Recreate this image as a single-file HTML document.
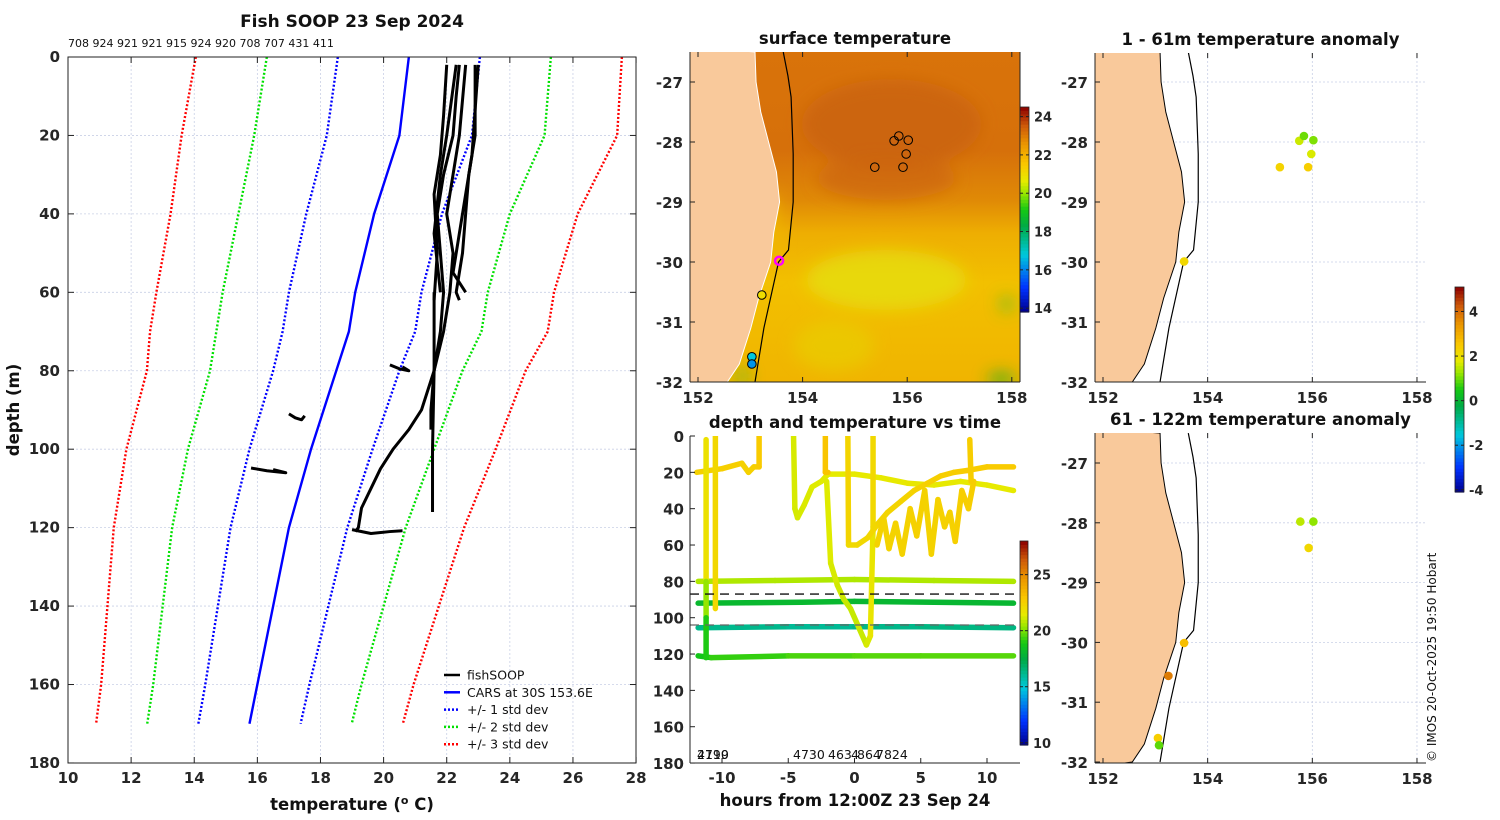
<!DOCTYPE html>
<html><head><meta charset="utf-8"><title>Fish SOOP 23 Sep 2024</title>
<style>
html,body{margin:0;padding:0;background:#fff;}
svg{display:block;font-family:"DejaVu Sans","Liberation Sans",sans-serif;}
.tk{font-size:15px;font-weight:bold;fill:#262626;}
.ti{font-size:16.5px;font-weight:bold;fill:#111;}
.pl{font-weight:normal;fill:#111;}
</style></head>
<body>
<svg id="fig" width="1500" height="820" viewBox="0 0 1500 820" xmlns="http://www.w3.org/2000/svg">
<defs>
<clipPath id="cpMain"><rect x="68" y="57" width="568" height="706"/></clipPath>
<clipPath id="cpM1"><rect x="690" y="52" width="330" height="330"/></clipPath>
<clipPath id="cpM2"><rect x="1095" y="53" width="331" height="329"/></clipPath>
<clipPath id="cpM3"><rect x="1095" y="433" width="331" height="330"/></clipPath>
<clipPath id="cpT"><rect x="690" y="436" width="330" height="327"/></clipPath>
<linearGradient id="sstbg" x1="0" y1="0" x2="0" y2="1">
<stop offset="0" stop-color="#d9730a"/><stop offset="0.3" stop-color="#d6700a"/>
<stop offset="0.45" stop-color="#e08a06"/><stop offset="0.55" stop-color="#eeae02"/>
<stop offset="0.7" stop-color="#f2c000"/><stop offset="1" stop-color="#f0b400"/>
</linearGradient>
<filter id="blur8"><feGaussianBlur stdDeviation="8"/></filter>
</defs>
</svg>
<script>
// ---------- data ----------
const profileDepths=[0,20,40,60,70,80,100,120,140,160,170];
const carsMean=[20.8,20.5,19.7,19.1,18.9,18.5,17.7,17.0,16.5,16.0,15.75];
const carsStd=[2.25,2.3,2.15,2.1,2.1,2.0,1.95,1.85,1.75,1.65,1.62];
const xTicks=[10,12,14,16,18,20,22,24,26,28];
const yTicks=[0,20,40,60,80,100,120,140,160,180];
const profCounts="708 924 921 921 915 924 920 708 707 431 411";
const fishProfiles=[
 {d:[2,10,20,30,40,50,60,70,80,90,95,100,105,110,115,120,121],t:[22.4,22.3,22.2,21.9,21.7,21.8,21.9,21.8,21.6,21.2,20.8,20.3,19.9,19.6,19.3,19.2,19.1]},
 {d:[2,20,40,50,60,70,80,90,95],t:[22.6,22.4,22.0,22.2,22.1,21.9,21.6,21.5,21.5]},
 {d:[60,80,100,116],t:[21.6,21.6,21.55,21.55]},
 {d:[2,20,30,40,50,60,62],t:[22.9,22.9,22.7,22.6,22.5,22.3,22.4]},
 {d:[2,25,40,55,60],t:[23.0,22.8,22.5,22.2,22.6]},
 {d:[2,20,30,45,60],t:[22.3,22.0,21.8,21.6,21.8]},
 {d:[2,15,25,35,50,62],t:[22.0,21.9,21.8,21.6,21.7,21.6]},
 {d:[78.5,79.5,80,79],t:[20.2,20.5,20.8,20.6]},
 {d:[91,92,92.5,91.5],t:[17.0,17.2,17.4,17.5]},
 {d:[104.8,105.5,106,105.2],t:[15.8,16.3,16.9,16.5]},
 {d:[120.5,121.5,121,120.8],t:[19.0,19.6,20.2,20.6]}
];
const legendLabels=["fishSOOP","CARS at 30S 153.6E","+/- 1 std dev","+/- 2 std dev","+/- 3 std dev"];
// time-depth tracks
const tracks=[
 {h:[-11.8,-6,0,6,12],d:[80,79.5,79,79.5,80],t:[20.6,20.8,20.6,20.8,20.6]},
 {h:[-11.8,-4,0,6,12],d:[92,91.5,91,91.5,92],t:[18.0,18.2,18.0,18.1,18.0]},
 {h:[-11.8,-5,0,5,12],d:[105.5,105,105,105,105.5],t:[16.5,16.0,16.2,16.4,16.5]},
 {h:[-11.8,-10.8,-5,0,5,12],d:[121,122,121,121,121,121],t:[19.0,18.5,20.0,19.0,20.3,19.0]},
 {h:[-11.9,-10,-8.5,-8,-7.6,-7.2],d:[20,18,15,20,17,17],t:[22.5,22.6,22.6,22.5,22.6,22.6]},
 {h:[-11.2,-11.2,-11.2,-11.2],d:[2,80,100,122],t:[22.5,21.2,19.5,18.5]},
 {h:[-10.5,-10.5],d:[0,95],t:[22.8,21.8]},
 {h:[-7.2,-7.2],d:[0,17],t:[22.8,22.8]},
 {h:[-4.6,-4.5,-4.3,-3.8,-3.2,-2.5,-2,0,2,4,6,8,10,12],d:[0,40,45,38,28,25,21,21,23,26,27,25,27,30],t:[21.3,21.2,21.2,21.3,21.3,21.4,21.4,21.5,21.5,21.6,21.6,21.5,21.5,21.5]},
 {h:[-2.2,-2.2,-2.0],d:[0,20,20],t:[23.0,23.0,23.0]},
 {h:[-2.1,-1.8,-1.3,-0.8,-0.3,0.3,0.9,1.2,1.4,1.4],d:[25,70,82,90,95,105,115,110,50,0],t:[21.4,21.3,21.2,21.1,21.0,21.0,21.1,21.4,22.0,22.5]},
 {h:[-0.5,-0.45,0.2,1,1.8,2.5,3.5,4.5,5.5,6.5,7.5,8.5,10,12],d:[0,60,60,56,48,42,36,30,26,22,20,19,17,17],t:[22.6,22.2,22.2,22.3,22.3,22.4,22.4,22.5,22.6,22.6,22.7,22.7,22.8,22.8]},
 {h:[1.7,2.2,2.6,3.1,3.6,4.2,4.7,5.3,5.8,6.3,6.8,7.2,7.6,8.1,8.6,9.0],d:[60,45,62,48,65,40,55,30,65,35,50,42,58,30,40,25],t:[22.5,22.5,22.4,22.5,22.4,22.6,22.5,22.6,22.4,22.6,22.5,22.6,22.5,22.7,22.6,22.7]},
 {h:[8.7,8.8],d:[2,25],t:[22.7,22.7]}
];
const hTicks=[-10,-5,0,5,10];
const tdTicks=[0,20,40,60,80,100,120,140,160,180];
const mldLines=[87,104];
// maps
const coastLon=[153.09,153.11,153.2,153.35,153.5,153.56,153.45,153.39,153.16,153.01,152.79,152.56];
const coastLat=[-26.5,-27,-27.5,-28,-28.5,-29,-29.5,-30,-30.6,-31.1,-31.7,-32];
const isoLon=[153.63,153.72,153.78,153.82,153.82,153.73,153.54,153.26,153.09];
const isoLat=[-26.5,-26.9,-27.25,-28.2,-29,-29.8,-30,-31.1,-32];
const sstLon=[155.75,155.84,156.02,155.98,155.92,155.38,153.22,153.03,153.03];
const sstLat=[-27.98,-27.9,-27.97,-28.2,-28.42,-28.42,-30.55,-31.58,-31.7];
const sstVal=[null,null,null,null,null,null,21.0,16.8,16.2];
const anomLon1=[155.75,155.84,156.02,155.98,155.92,155.38,153.55];
const anomLat1=[-27.98,-27.9,-27.97,-28.2,-28.42,-28.42,-29.99];
const anomVal1=[1.6,1.0,1.1,1.7,2.4,2.3,2.2];
const anomLon2=[155.77,156.02,155.93,153.55,153.25,153.05,153.07];
const anomLat2=[-27.98,-27.98,-28.42,-30.01,-30.56,-31.6,-31.72];
const anomVal2=[1.5,1.2,2.2,2.7,3.8,2.4,0.9];
const lonTicks=[152,154,156,158];
const latTicks=[-27,-28,-29,-30,-31,-32];

// ---------- helpers ----------
const svg=document.getElementById('fig');
const NS='http://www.w3.org/2000/svg';
function mk(tag,at,parent){const e=document.createElementNS(NS,tag);for(const k in at)e.setAttribute(k,at[k]);(parent||svg).appendChild(e);return e;}
function txt(s,x,y,cls,anchor,parent){const e=mk('text',{x:x,y:y,'class':cls||'tk','text-anchor':anchor||'middle'},parent);e.textContent=s;return e;}
const cmapStops=[[0,[0,0,140]],[0.12,[0,50,255]],[0.28,[0,200,220]],[0.42,[0,170,70]],[0.5,[20,200,20]],[0.58,[150,230,0]],[0.64,[230,235,0]],[0.72,[250,200,0]],[0.82,[235,150,0]],[0.91,[205,90,10]],[1,[140,0,0]]];
function cmap(f){f=Math.max(0,Math.min(1,f));for(let i=1;i<cmapStops.length;i++){if(f<=cmapStops[i][0]){const a=cmapStops[i-1],b=cmapStops[i];const u=(f-a[0])/(b[0]-a[0]);const c=a[1].map((v,j)=>Math.round(v+(b[1][j]-v)*u));return 'rgb('+c.join(',')+')';}}return 'rgb(140,0,0)';}
function colorbar(x,y,w,h,vmin,vmax,ticks,name){
  const g=mk('g',{});
  
  
  const n=60;
  for(let i=0;i<n;i++){mk('rect',{x:x,y:y+h-(i+1)*h/n,width:w,height:h/n+0.6,fill:cmap((i+0.5)/n)},g);}
  mk('rect',{x:x,y:y,width:w,height:h,fill:'none',stroke:'#222','stroke-width':0.8},g);
  ticks.forEach(v=>{const yy=y+h-(v-vmin)/(vmax-vmin)*h;mk('line',{x1:x+w-3,x2:x+w,y1:yy,y2:yy,stroke:'#222'},g);mk('line',{x1:x,x2:x+3,y1:yy,y2:yy,stroke:'#222'},g);
    const t=txt(String(v),x+w+5,yy+5,'tk','start',g);t.setAttribute('style','font-size:13px');});
}

// ---------- main profile plot ----------
const tx=t=>68+(t-10)*31.56, dy=d=>57+d*3.922;
const gMain=mk('g',{});


xTicks.forEach(v=>{if(v>10&&v<28){const l=mk('line',{x1:tx(v),x2:tx(v),y1:57,y2:763,stroke:'#c9d0e6','stroke-width':0.8,'stroke-dasharray':'2,2'},gMain);
  }});
yTicks.forEach(v=>{if(v>0&&v<180){const l=mk('line',{x1:68,x2:636,y1:dy(v),y2:dy(v),stroke:'#c9d0e6','stroke-width':0.8,'stroke-dasharray':'2,2'},gMain);
  }});
const gLines=mk('g',{'clip-path':'url(#cpMain)'},gMain);
[[3,'#ff0000'],[2,'#00e000'],[1,'#0000ff']].forEach(([k,col])=>{
  [-1,1].forEach(sg=>{const pts=profileDepths.map((d,i)=>tx(carsMean[i]+sg*k*carsStd[i])+','+dy(d)).join(' ');
    const p=mk('polyline',{points:pts,fill:'none',stroke:col,'stroke-width':2.4,'stroke-dasharray':'2,2'},gLines);
    
    });
});
const meanLine=mk('polyline',{points:profileDepths.map((d,i)=>tx(carsMean[i])+','+dy(d)).join(' '),fill:'none',stroke:'#0000ff','stroke-width':2.4},gLines);


fishProfiles.forEach(p=>{const pl=mk('polyline',{points:p.d.map((d,i)=>tx(p.t[i])+','+dy(d)).join(' '),fill:'none',stroke:'#000','stroke-width':3,'stroke-linejoin':'round'},gLines);
  
  });
mk('rect',{x:68,y:57,width:568,height:706,fill:'none',stroke:'#222','stroke-width':1},gMain);
xTicks.forEach(v=>{mk('line',{x1:tx(v),x2:tx(v),y1:763,y2:757,stroke:'#222'},gMain);mk('line',{x1:tx(v),x2:tx(v),y1:57,y2:63,stroke:'#222'},gMain);
  const t=txt(String(v),tx(v),783,'tk','middle',gMain);});
yTicks.forEach(v=>{mk('line',{x1:68,x2:74,y1:dy(v),y2:dy(v),stroke:'#222'},gMain);mk('line',{x1:636,x2:630,y1:dy(v),y2:dy(v),stroke:'#222'},gMain);
  const t=txt(String(v),60,dy(v)+5,'tk','end',gMain);});
const mt=txt('Fish SOOP 23 Sep 2024',352,27,'ti','middle',gMain);mt.setAttribute('style','font-size:17px');

const pc=txt(profCounts,68,47,'pl','start',gMain);pc.setAttribute('style','font-size:11px');

const xl=mk('text',{x:352,y:810,'class':'ti','text-anchor':'middle'},gMain);xl.innerHTML='temperature (<tspan dy="-6" font-size="11">o</tspan><tspan dy="6"> C)</tspan>';

const yl=txt('depth (m)',0,0,'ti','middle',gMain);yl.setAttribute('transform','translate(19,410) rotate(-90)');

// legend
const gLeg=mk('g',{});


const legStyle=[['#000',''],['#0000ff',''],['#0000ff','2,2'],['#00e000','2,2'],['#ff0000','2,2']];
legendLabels.forEach((s,i)=>{const y=675+i*17.3;
  mk('line',{x1:444,x2:460,y1:y,y2:y,stroke:legStyle[i][0],'stroke-width':2.5,'stroke-dasharray':legStyle[i][1]},gLeg);
  const t=txt(s,467,y+4.5,'pl','start',gLeg);t.setAttribute('style','font-size:12.5px');
  });

// ---------- maps ----------
function drawMap(o){
  const g=mk('g',{});
  
  
  const X=lon=>o.x152+(lon-152)*o.kx, Y=lat=>o.y27+(-27-lat)*o.ky;
  const inner=mk('g',{'clip-path':'url(#'+o.clip+')'},g);
  if(o.sst){
    mk('rect',{x:o.bx,y:o.by,width:o.bw,height:o.bh,fill:'url(#sstbg)'},inner);
    const bl=mk('g',{filter:'url(#blur8)'},inner);
    mk('ellipse',{cx:X(155.7),cy:Y(-27.7),rx:90,ry:45,fill:'#c8600c',opacity:0.7},bl);
    mk('ellipse',{cx:X(155.6),cy:Y(-28.6),rx:70,ry:22,fill:'#cc640a',opacity:0.7},bl);
    mk('ellipse',{cx:X(155.6),cy:Y(-30.3),rx:80,ry:30,fill:'#e4e010',opacity:0.75},bl);
    mk('ellipse',{cx:X(154.6),cy:Y(-31.4),rx:40,ry:25,fill:'#e8d008',opacity:0.6},bl);
    mk('ellipse',{cx:X(157.9),cy:Y(-30.7),rx:6,ry:8,fill:'#50c020',opacity:0.8},bl);
    mk('ellipse',{cx:X(157.8),cy:Y(-31.95),rx:14,ry:6,fill:'#30b020',opacity:0.9},bl);
    mk('ellipse',{cx:X(153.4),cy:Y(-29.5),rx:8,ry:40,fill:'#f0b800',opacity:0.8},bl);
    mk('ellipse',{cx:X(152.85),cy:Y(-31.9),rx:6,ry:6,fill:'#30c020',opacity:0.9},bl);
  } else {
    lonTicks.forEach(v=>{if(v>152)mk('line',{x1:X(v),x2:X(v),y1:o.by,y2:o.by+o.bh,stroke:'#c9d0e6','stroke-width':0.8,'stroke-dasharray':'2,2'},inner);});
    latTicks.forEach(v=>{if(v>-32)mk('line',{x1:o.bx,x2:o.bx+o.bw,y1:Y(v),y2:Y(v),stroke:'#c9d0e6','stroke-width':0.8,'stroke-dasharray':'2,2'},inner);});
  }
  const land=coastLon.map((lo,i)=>X(lo)+','+Y(coastLat[i])).concat([X(151.7)+','+Y(-32.1),X(151.7)+','+Y(-26.4)]).join(' ');
  const lp=mk('polygon',{points:land,fill:'#f9c99b',stroke:o.sst?'#fff':'#000','stroke-width':1},inner);
  
  
  const iso=mk('polyline',{points:isoLon.map((lo,i)=>X(lo)+','+Y(isoLat[i])).join(' '),fill:'none',stroke:'#000','stroke-width':1.2},inner);
  
  
  o.dots.lon.forEach((lo,i)=>{const v=o.dots.val[i];
    const c=mk('circle',{cx:X(lo),cy:Y(o.dots.lat[i]),r:4.3,fill:v==null?'none':cmap((v-o.vmin)/(o.vmax-o.vmin)),stroke:o.sst?'#000':'none','stroke-width':1},inner);
    
    });
  if(o.sst){const m=mk('circle',{cx:X(153.55),cy:Y(-29.98),r:4,fill:'none',stroke:'#ff00ff','stroke-width':2.5},inner);
    }
  mk('line',{x1:o.bx,x2:o.bx,y1:o.by,y2:o.by+o.bh,stroke:'#222'},g);
  mk('line',{x1:o.bx,x2:o.bx+o.bw,y1:o.by+o.bh,y2:o.by+o.bh,stroke:'#222'},g);
  if(o.sst){mk('line',{x1:o.bx+o.bw,x2:o.bx+o.bw,y1:o.by,y2:o.by+o.bh,stroke:'#222'},g);}
  lonTicks.forEach(v=>{mk('line',{x1:X(v),x2:X(v),y1:o.by+o.bh,y2:o.by+o.bh-5,stroke:'#222'},g);mk('line',{x1:X(v),x2:X(v),y1:o.by,y2:o.by+5,stroke:'#222'},g);
    const t=txt(String(v),X(v),o.by+o.bh+21,'tk','middle',g);});
  latTicks.forEach(v=>{mk('line',{x1:o.bx,x2:o.bx+5,y1:Y(v),y2:Y(v),stroke:'#222'},g);
    const t=txt(String(v),o.bx-7,Y(v)+6,'tk','end',g);});
  const tt=txt(o.title,o.bx+o.bw/2,o.by-8,'ti','middle',g);
  
}
drawMap({name:'surface-temperature-map',title:'surface temperature',sst:true,clip:'cpM1',x152:698,kx:52.3,y27:82,ky:60,bx:690,by:52,bw:330,bh:330,
  dots:{lon:sstLon,lat:sstLat,val:sstVal},vmin:13.8,vmax:24.5});
drawMap({name:'anomaly-map-1-61m',title:'1 - 61m temperature anomaly',sst:false,clip:'cpM2',x152:1103,kx:52.33,y27:82,ky:60,bx:1095,by:53,bw:331,bh:329,
  dots:{lon:anomLon1,lat:anomLat1,val:anomVal1},vmin:-4.1,vmax:5.1});
drawMap({name:'anomaly-map-61-122m',title:'61 - 122m temperature anomaly',sst:false,clip:'cpM3',x152:1103,kx:52.33,y27:463,ky:59.8,bx:1095,by:433,bw:331,bh:330,
  dots:{lon:anomLon2,lat:anomLat2,val:anomVal2},vmin:-4.1,vmax:5.1});
colorbar(1020,107,9,205,13.8,24.5,[24,22,20,18,16,14],'sst-colorbar');
colorbar(1455,287,9,205,-4.1,5.1,[4,2,0,-2,-4],'anomaly-colorbar');

// ---------- time-depth plot ----------
const hx=h=>722+(h+10)*13.25, hy=d=>436+d*1.817;
const gT=mk('g',{});


const gTi=mk('g',{'clip-path':'url(#cpT)'},gT);
tracks.forEach(tr=>{
  for(let i=0;i<tr.h.length-1;i++){
    const s=mk('line',{x1:hx(tr.h[i]),y1:hy(tr.d[i]),x2:hx(tr.h[i+1]),y2:hy(tr.d[i+1]),stroke:cmap(((tr.t[i]+tr.t[i+1])/2-9.8)/18.2),'stroke-width':5.5,'stroke-linecap':'round'},gTi);
    
    
  }
});
mldLines.forEach((d,i)=>{const l=mk('line',{x1:690,x2:1020,y1:hy(d),y2:hy(d),stroke:i?'#666':'#111','stroke-width':1.3,'stroke-dasharray':'9,6'},gTi);
  });
mk('line',{x1:690,x2:690,y1:436,y2:763,stroke:'#222'},gT);
mk('line',{x1:690,x2:1020,y1:763,y2:763,stroke:'#222'},gT);
hTicks.forEach(v=>{mk('line',{x1:hx(v),x2:hx(v),y1:763,y2:758,stroke:'#222'},gT);
  const t=txt(String(v),hx(v),783,'tk','middle',gT);});
tdTicks.forEach(v=>{mk('line',{x1:690,x2:695,y1:hy(v),y2:hy(v),stroke:'#222'},gT);
  const t=txt(String(v),684,hy(v)+6,'tk','end',gT);});
[['4710',697],['2199',697],['4730',793],['463',828],['4',851],['864',857],['7824',876]].forEach(([s,x])=>{const t=txt(s,x,759,'pl','start',gT);t.setAttribute('style','font-size:12.5px');
  });
const t2=txt('depth and temperature vs time',855,428,'ti','middle',gT);

const t3=txt('hours from 12:00Z 23 Sep 24',855,806,'ti','middle',gT);

colorbar(1020,541,8,204,9.8,28,[25,20,15,10],'time-temp-colorbar');

const cr=txt('\u00a9 IMOS 20-Oct-2025 19:50 Hobart',0,0,'pl','start');
cr.setAttribute('transform','translate(1436,762) rotate(-90)');
cr.setAttribute('style','font-size:12px');


</script>
</body></html>
